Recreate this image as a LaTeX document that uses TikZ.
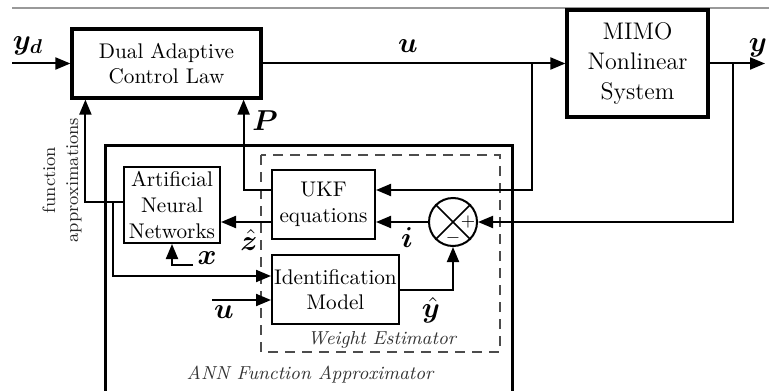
\documentclass[tikz,border=0pt]{standalone}
\usepackage{bm}
\usetikzlibrary{arrows.meta}
\begin{document}
\begin{tikzpicture}[x=0.5pt,y=-0.5pt,
  thickbox/.style={draw,line width=1.6pt,inner sep=0pt},
  thinbox/.style={draw,line width=1pt,inner sep=0pt},
  conn/.style={line width=1pt},
  arr/.style={conn,-{Triangle[length=7.5pt,width=6pt]}},
  lbl/.style={font=\fontsize{14.5}{16}\selectfont,inner sep=0pt},
  txt/.style={font=\fontsize{10.6}{12.8}\selectfont,align=center},
  itxt/.style={font=\fontsize{9.4}{11}\selectfont\itshape,text=black!80,inner sep=0pt},
]
\useasboundingbox (0,0) rectangle (769,390);
\draw[gray!80, line width=0.6pt] (12,8) -- (769,8);

% main blocks
\node[thickbox,txt,minimum width=94.5pt,minimum height=34.5pt] (dual) at (166.5,63.5) {Dual Adaptive\\Control Law};
\node[thickbox,font=\fontsize{12}{15}\selectfont,align=center,minimum width=70.5pt,minimum height=53.5pt] (mimo) at (637.5,63.5) {MIMO\\Nonlinear\\System};

% ANN function approximator frame
\draw[line width=1.5pt] (105,400) |- (512,145) -- (512,400);
% weight estimator frame
\draw[gray!60!black,line width=0.8pt,dash pattern=on 5pt off 3.5pt] (261,155) rectangle (500,352);

\node[thinbox,txt,minimum width=48pt,minimum height=38pt] (ann) at (172,205) {Artificial\\Neural\\Networks};
\node[thinbox,txt,minimum width=51.5pt,minimum height=34.5pt] (ukf) at (323.5,204.5) {UKF\\equations};
\node[thinbox,txt,minimum width=63.5pt,minimum height=34.5pt] (idm) at (335.5,289.5) {Identification\\Model};
\node[circle,draw,line width=1pt,minimum size=24pt,inner sep=0pt] (sum) at (453,222) {};
\draw[line width=0.8pt] (sum.north west) -- (sum.south east) (sum.north east) -- (sum.south west);
\node[inner sep=0pt,font=\small] at ([xshift=7.5pt]sum.center) {$+$};
\node[inner sep=0pt,font=\small] at ([yshift=-8pt]sum.center) {$-$};

% coordinates
\coordinate (yd) at (12,63.5);
\coordinate (ub) at (532,63.5);
\coordinate (yb) at (733,63.5);
\coordinate (yout) at (765,63.5);
\coordinate (jn) at (113,202);
\coordinate (xin) at (193,265);
\coordinate (uin) at (212,300);

% connectors
\draw[arr] (yd) -- (dual.west);
\draw[arr] (dual.east) -- (mimo.west);
\draw[arr] (mimo.east) -- (yout);
\draw[arr] (ub) |- ([yshift=7.25pt]ukf.east);
\draw[arr] (yb) |- (sum.east);
\draw[arr] (sum.west) -- (sum.west -| ukf.east);
\draw[arr] (ukf.west |- sum.west) -- (ann.east |- sum.west);
\draw[arr] ([yshift=7.5pt]ukf.west) -| ([xshift=-9.5pt]dual.south east);
\draw[arr] ([yshift=1.5pt]ann.west) -| ([xshift=7.5pt]dual.south west);
\draw[arr] (jn) |- ([yshift=6.75pt]idm.west);
\draw[arr] (xin) -| (ann.south);
\draw[arr] (uin) -- (uin -| idm.west);
\draw[arr] (idm.east) -| (sum.south);

% labels
\node[lbl] at (28,46) {$\bm{y_d}$};
\node[lbl] at (408,46) {$\bm{u}$};
\node[lbl] at (758,48) {$\bm{y}$};
\node[lbl] at (265,121) {$\bm{P}$};
\node[lbl] at (249,240) {$\hat{\bm{z}}$};
\node[lbl] at (407,238) {$\bm{i}$};
\node[lbl] at (207,258) {$\bm{x}$};
\node[lbl] at (224,312) {$\bm{u}$};
\node[lbl] at (431,310) {$\hat{\bm{y}}$};

\node[rotate=90,font=\fontsize{9}{11.5}\selectfont,align=center,text=black!85,inner sep=0pt] at (62,180) {function\\approximations};
\node[itxt] at (382,340) {Weight Estimator};
\node[itxt] at (310,375) {ANN Function Approximator};
\end{tikzpicture}
\end{document}
